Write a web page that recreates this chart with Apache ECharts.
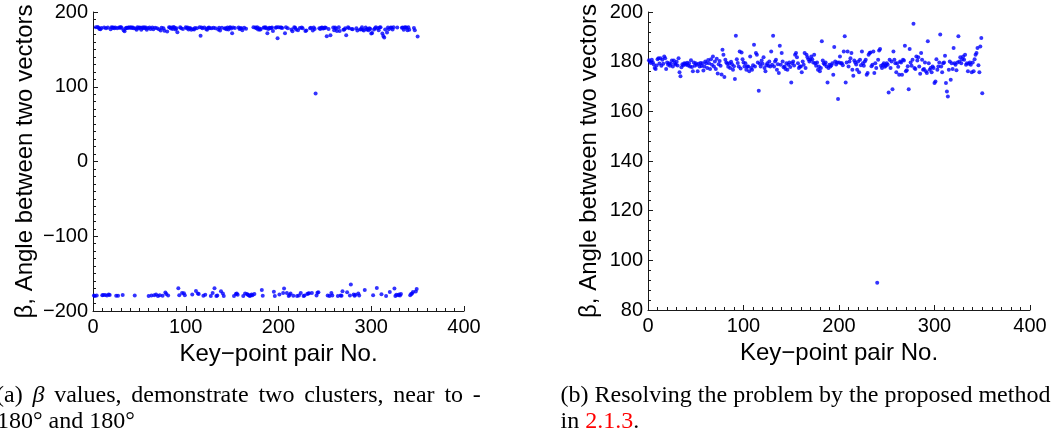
<!DOCTYPE html>
<html><head><meta charset="utf-8">
<script src="https://cdn.jsdelivr.net/npm/echarts@6/dist/echarts.min.js"></script>
<style>html,body{margin:0;padding:0;background:#fff;overflow:hidden;}#c{width:1053px;height:438px;}</style>
</head><body><div id="c"></div>
<script>
// Key-point pair No. axis ticks
const xTicks = [0, 100, 200, 300, 400];
// Left panel: raw beta, y ticks
const rawYTicks = [-200, -100, 0, 100, 200];
// Right panel: resolved beta, y ticks
const resolvedYTicks = [80, 100, 120, 140, 160, 180, 200];

// (b) resolved beta values, key-point pairs 1..350
const resolvedBeta = [
180.6,180.1,179.5,180.8,179.8,178.9,177.4,177.0,178.5,181.0,
181.4,179.3,181.4,178.4,180.8,179.2,182.1,181.4,177.0,179.7,
178.8,179.4,178.4,179.2,180.5,178.1,180.5,179.4,178.9,180.0,
178.5,181.4,175.7,174.1,177.8,179.0,178.6,179.4,179.2,178.8,
179.6,178.5,179.4,178.1,180.6,177.9,176.1,179.7,178.4,179.4,
178.8,176.1,179.2,178.1,179.5,178.3,179.4,176.4,178.1,180.1,
179.4,177.4,180.7,179.4,177.0,181.0,178.8,182.1,178.1,180.1,
177.0,181.2,175.2,179.0,180.3,178.4,174.8,184.8,182.8,173.8,
180.8,179.7,179.2,178.0,179.4,177.4,180.0,179.0,176.7,178.2,
173.0,190.4,181.0,179.5,178.1,184.1,177.2,183.7,181.0,179.7,
178.1,179.4,176.7,178.1,178.1,176.1,182.1,177.4,176.7,178.6,
186.8,178.1,183.5,182.8,179.7,168.3,179.2,178.1,180.5,179.2,
181.8,177.4,176.1,178.6,179.4,178.4,180.1,178.1,184.1,178.8,
190.4,178.1,180.1,180.8,176.7,179.0,175.4,186.4,178.8,183.5,
180.1,177.8,178.1,177.0,179.4,176.7,178.8,179.7,177.9,171.6,
179.4,180.1,178.5,182.8,183.5,181.8,179.4,177.4,178.1,178.1,
175.7,180.1,178.8,183.5,177.5,182.8,181.8,181.0,180.1,180.8,
182.1,181.0,179.7,182.8,179.4,178.4,179.7,176.7,178.1,176.1,
177.4,188.2,180.5,179.4,178.9,179.7,178.1,171.6,177.4,178.8,
178.1,178.6,179.4,174.7,185.9,180.1,178.9,179.7,165.0,179.7,
182.1,179.4,179.4,178.6,184.1,190.2,171.6,179.7,184.1,178.1,
180.1,181.4,183.5,176.7,174.3,180.5,179.7,178.9,176.7,180.1,
175.7,180.8,178.6,184.1,179.4,178.4,180.1,180.8,174.7,175.4,
182.8,183.5,183.7,178.2,178.8,184.1,175.4,179.4,177.4,91.0,
180.8,184.5,185.1,178.4,177.4,178.8,179.4,178.0,178.4,179.4,
178.8,167.6,180.8,177.4,180.1,168.9,184.1,180.8,179.4,175.7,
179.4,178.0,174.7,180.1,179.7,174.7,180.8,180.5,186.4,176.1,
176.5,178.2,168.9,185.1,179.7,178.4,180.8,195.3,177.4,177.0,
182.1,180.5,181.8,178.1,175.1,183.5,180.8,176.7,177.0,179.7,
176.1,175.4,188.2,179.4,176.7,177.4,175.7,178.1,177.4,171.4,
172.0,181.0,176.7,178.1,179.7,190.9,178.1,175.7,179.4,179.7,
182.4,171.4,168.0,166.0,176.7,180.1,172.7,179.4,177.0,185.5,
179.4,178.8,176.5,179.7,190.2,180.1,181.8,179.4,181.0,182.1,
180.8,182.8,178.8,179.4,176.1,179.2,179.7,178.8,175.7,179.7,
176.1,181.0,182.8,183.5,185.5,178.6,175.7,186.1,189.5,167.3
];

// (a) raw beta values, key-point pairs 1..350
const rawBeta = [
-179.4,-179.9,179.5,-179.2,179.8,178.9,177.4,177.0,178.5,-179.0,
-178.6,179.3,-178.6,178.4,-179.2,179.2,-177.9,-178.6,177.0,179.7,
178.8,179.4,178.4,179.2,-179.5,178.1,-179.5,179.4,178.9,180.0,
178.5,-178.6,175.7,174.1,177.8,179.0,178.6,179.4,179.2,178.8,
179.6,178.5,179.4,178.1,-179.4,177.9,176.1,179.7,178.4,179.4,
178.8,176.1,179.2,178.1,179.5,178.3,179.4,176.4,178.1,-179.9,
179.4,177.4,-179.3,179.4,177.0,-179.0,178.8,-177.9,178.1,-179.9,
177.0,-178.8,175.2,179.0,-179.7,178.4,174.8,-175.2,-177.2,173.8,
-179.2,179.7,179.2,178.0,179.4,177.4,180.0,179.0,176.7,178.2,
173.0,-169.6,-179.0,179.5,178.1,-175.9,177.2,-176.3,-179.0,179.7,
178.1,179.4,176.7,178.1,178.1,176.1,-177.9,177.4,176.7,178.6,
-173.2,178.1,-176.5,-177.2,179.7,168.3,179.2,178.1,-179.5,179.2,
-178.2,177.4,176.1,178.6,179.4,178.4,-179.9,178.1,-175.9,178.8,
-169.6,178.1,-179.9,-179.2,176.7,179.0,175.4,-173.6,178.8,-176.5,
-179.9,177.8,178.1,177.0,179.4,176.7,178.8,179.7,177.9,171.6,
179.4,-179.9,178.5,-177.2,-176.5,-178.2,179.4,177.4,178.1,178.1,
175.7,-179.9,178.8,-176.5,177.5,-177.2,-178.2,-179.0,-179.9,-179.2,
-177.9,-179.0,179.7,-177.2,179.4,178.4,179.7,176.7,178.1,176.1,
177.4,-171.8,-179.5,179.4,178.9,179.7,178.1,171.6,177.4,178.8,
178.1,178.6,179.4,174.7,-174.1,-179.9,178.9,179.7,165.0,179.7,
-177.9,179.4,179.4,178.6,-175.9,-169.8,171.6,179.7,-175.9,178.1,
-179.9,-178.6,-176.5,176.7,174.3,-179.5,179.7,178.9,176.7,-179.9,
175.7,-179.2,178.6,-175.9,179.4,178.4,-179.9,-179.2,174.7,175.4,
-177.2,-176.5,-176.3,178.2,178.8,-175.9,175.4,179.4,177.4,91.0,
-179.2,-175.5,-174.9,178.4,177.4,178.8,179.4,178.0,178.4,179.4,
178.8,167.6,-179.2,177.4,-179.9,168.9,-175.9,-179.2,179.4,175.7,
179.4,178.0,174.7,-179.9,179.7,174.7,-179.2,-179.5,-173.6,176.1,
176.5,178.2,168.9,-174.9,179.7,178.4,-179.2,-164.7,177.4,177.0,
-177.9,-179.5,-178.2,178.1,175.1,-176.5,-179.2,176.7,177.0,179.7,
176.1,175.4,-171.8,179.4,176.7,177.4,175.7,178.1,177.4,171.4,
172.0,-179.0,176.7,178.1,179.7,-169.1,178.1,175.7,179.4,179.7,
-177.6,171.4,168.0,166.0,176.7,-179.9,172.7,179.4,177.0,-174.5,
179.4,178.8,176.5,179.7,-169.8,-179.9,-178.2,179.4,-179.0,-177.9,
-179.2,-177.2,178.8,179.4,176.1,179.2,179.7,178.8,175.7,179.7,
176.1,-179.0,-177.2,-176.5,-174.5,178.6,175.7,-173.9,-170.5,167.3
];

const xName = 'Key\u2212point pair No.';
const yName = '\u03b2, Angle between two vectors';

const pairs = vals => vals.map((v, i) => [i + 1, v]);

const AX = '#1a1a1a';
const SANS = 'Liberation Sans';
const SERIF = 'Liberation Serif';

function xAxisCfg(gridIndex) {
  return {
    gridIndex, type: 'value',
    min: xTicks[0], max: xTicks[xTicks.length - 1], interval: xTicks[1] - xTicks[0],
    name: xName, nameLocation: 'middle', nameGap: 24,
    nameTextStyle: { fontFamily: SANS, fontSize: 24, color: '#000' },
    axisLine: { show: true, onZero: false, lineStyle: { color: AX, width: 1 } },
    axisTick: { show: true, inside: true, length: 5, lineStyle: { color: AX } },
    minorTick: { show: true, splitNumber: 10, length: 3, lineStyle: { color: AX } },
    axisLabel: { fontFamily: SANS, fontSize: 20, color: '#000', margin: 6 },
    splitLine: { show: false }
  };
}
function yAxisCfg(gridIndex, ticks, minorSplit, gap) {
  return {
    gridIndex, type: 'value',
    min: ticks[0], max: ticks[ticks.length - 1], interval: ticks[1] - ticks[0],
    name: yName, nameLocation: 'middle', nameGap: gap, nameRotate: 90,
    nameTextStyle: { fontFamily: SANS, fontSize: 24, color: '#000' },
    axisLine: { show: true, onZero: false, lineStyle: { color: AX, width: 1 } },
    axisTick: { show: true, inside: true, length: 5, lineStyle: { color: AX } },
    minorTick: { show: true, splitNumber: minorSplit, length: 3, lineStyle: { color: AX } },
    axisLabel: { fontFamily: SANS, fontSize: 20, color: '#000', margin: 5,
      formatter: v => String(v).replace('-', '\u2212') },
    splitLine: { show: false }
  };
}

const base = { fontFamily: SERIF, fontSize: 24, fill: '#000' };
const chart = echarts.init(document.getElementById('c'), null, { renderer: 'canvas' });
chart.setOption({
  animation: false,
  backgroundColor: '#fff',
  grid: [
    { left: 93, top: 12, width: 371, height: 299 },
    { left: 648, top: 12, width: 382, height: 298 }
  ],
  xAxis: [xAxisCfg(0), xAxisCfg(1)],
  yAxis: [yAxisCfg(0, rawYTicks, 10, 56), yAxisCfg(1, resolvedYTicks, 5, 47)],
  series: [
    { type: 'scatter', xAxisIndex: 0, yAxisIndex: 0, data: pairs(rawBeta),
      symbol: 'circle', symbolSize: 4, itemStyle: { color: '#0000ff' } },
    { type: 'scatter', xAxisIndex: 1, yAxisIndex: 1, data: pairs(resolvedBeta),
      symbol: 'circle', symbolSize: 4, itemStyle: { color: '#0000ff' } }
  ],
  graphic: [
    { type: 'text', x: -4, y: 396, style: {
      text: '{t|(a)}{s| }{i|\u03b2}{s| }{t|values,}{s| }{t|demonstrate}{s| }{t|two}{s| }{t|clusters,}{s| }{t|near}{s| }{t|to}{s| }{t|-}',
      verticalAlign: 'middle', align: 'left',
      rich: { t: base, i: Object.assign({}, base, { fontStyle: 'italic' }), s: Object.assign({}, base, { width: 9.8 }) }
    } },
    { type: 'text', x: -3, y: 422, style: {
      text: '180\u00b0 and 180\u00b0', fontFamily: SERIF, fontSize: 24, fill: '#000',
      verticalAlign: 'middle', align: 'left' } },
    { type: 'text', x: 560.5, y: 396, style: {
      text: '(b) Resolving the problem by the proposed method', fontFamily: SERIF, fontSize: 24, fill: '#000',
      verticalAlign: 'middle', align: 'left' } },
    { type: 'text', x: 560.5, y: 422, style: {
      text: '{t|in }{r|2.1.3}{t|.}', verticalAlign: 'middle', align: 'left',
      rich: { t: base, r: Object.assign({}, base, { fill: '#ff0000' }) } } }
  ]
});
</script>
</body></html>
